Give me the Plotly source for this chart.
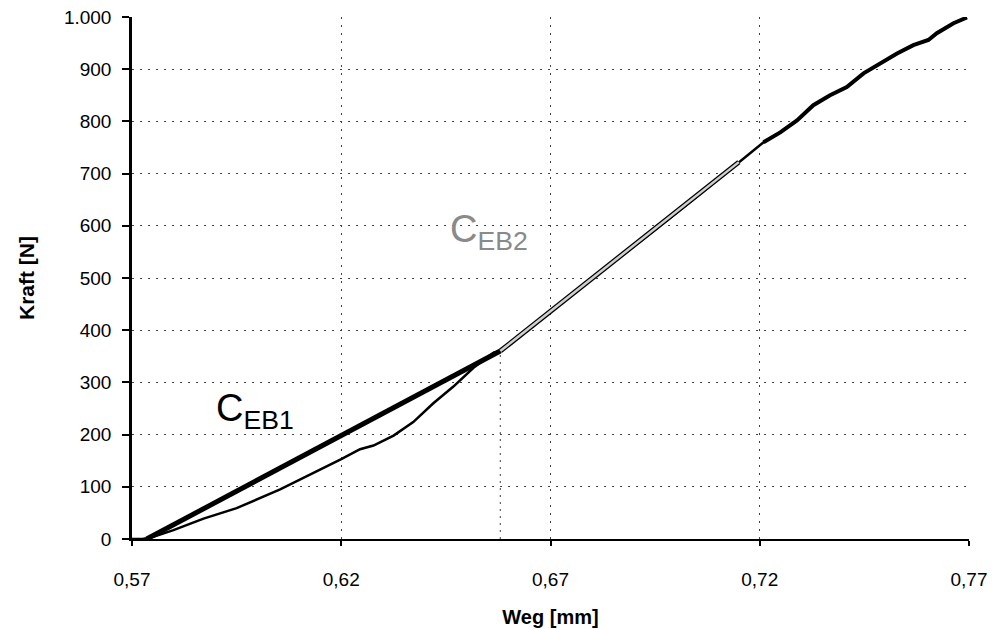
import plotly.graph_objects as go

# Measured load-displacement curve (Weg [mm], Kraft [N])
weg = [0.5700, 0.5725, 0.5751, 0.5799, 0.5871, 0.5950, 0.6054, 0.6118, 0.6200,
       0.6245, 0.6277, 0.6325, 0.6372, 0.6420, 0.6468, 0.6516, 0.6564, 0.6580,
       0.6705, 0.6850, 0.6954, 0.7042, 0.7149, 0.7209, 0.7249, 0.7289, 0.7328,
       0.7368, 0.7408, 0.7448, 0.7488, 0.7528, 0.7567, 0.7603, 0.7623, 0.7663,
       0.7695]
kraft = [0, 0, 4, 17, 39, 59, 95, 120, 153,
         172, 179, 198, 224, 260, 292, 328, 357, 360,
         438, 529, 595, 651, 721, 760, 779, 802, 831,
         850, 866, 892, 911, 930, 946, 956, 969, 988,
         999]

# Secant stiffness lines
ceb1_x = [0.5735, 0.6580]
ceb1_y = [0, 360]
ceb2_x = [0.6580, 0.7150]
ceb2_y = [360, 722]

x_ticks = [0.57, 0.62, 0.67, 0.72, 0.77]
y_ticks = [0, 100, 200, 300, 400, 500, 600, 700, 800, 900, 1000]

FONT = "Liberation Sans, Arial, sans-serif"

fig = go.Figure()

# dotted drop line at end of C_EB1
fig.add_trace(go.Scatter(x=[ceb1_x[1], ceb1_x[1]], y=[0, ceb1_y[1]], mode="lines",
                         line=dict(color="#444", width=1, dash="2px,5px"),
                         hoverinfo="skip", showlegend=False))

# measured curve
fig.add_trace(go.Scatter(x=weg, y=kraft, mode="lines",
                         line=dict(color="black", width=2.5),
                         showlegend=False))
upper = [i for i, v in enumerate(weg) if v >= ceb2_x[1]]
fig.add_trace(go.Scatter(x=[weg[i] for i in upper], y=[kraft[i] for i in upper],
                         mode="lines", line=dict(color="black", width=4),
                         showlegend=False))

# C_EB1 thick line
fig.add_trace(go.Scatter(x=ceb1_x, y=ceb1_y, mode="lines",
                         line=dict(color="black", width=5), showlegend=False))

# C_EB2 hollow line
fig.add_trace(go.Scatter(x=ceb2_x, y=ceb2_y, mode="lines",
                         line=dict(color="black", width=5), showlegend=False))
fig.add_trace(go.Scatter(x=ceb2_x, y=ceb2_y, mode="lines",
                         line=dict(color="#d0d0d0", width=2.5), showlegend=False))

fig.add_annotation(x=0.5895, y=245, xref="x", yref="y", xanchor="left", yanchor="middle",
                   text="C<sub>EB1</sub>", showarrow=False,
                   font=dict(family=FONT, size=38, color="black"))
fig.add_annotation(x=0.6455, y=588, xref="x", yref="y", xanchor="left", yanchor="middle",
                   text="C<sub>EB2</sub>", showarrow=False,
                   font=dict(family=FONT, size=38, color="#8a8a8a"))

fig.update_layout(
    width=1000, height=629,
    margin=dict(l=132, r=31, t=17, b=90, autoexpand=False),
    paper_bgcolor="white", plot_bgcolor="white",
    separators=",.",
    font=dict(family=FONT, size=19, color="black"),
    showlegend=False,
)

fig.update_xaxes(
    range=[0.57, 0.77], tickvals=x_ticks, tickformat=".2f",
    automargin=False,
    showgrid=True, gridcolor="#444", gridwidth=1, griddash="2px,6px",
    showline=True, linecolor="black", linewidth=2,
    ticks="outside", ticklen=5, tickwidth=1.5, tickcolor="black",
    ticklabelstandoff=17,
    zeroline=False,
    title=dict(text="<b>Weg [mm]</b>", font=dict(family=FONT, size=20), standoff=21),
    tickfont=dict(family=FONT, size=19),
)
fig.update_yaxes(
    range=[0, 1000], tickvals=y_ticks, tickformat=",d",
    automargin=False,
    showgrid=True, gridcolor="#444", gridwidth=1, griddash="2px,6px",
    showline=True, linecolor="black", linewidth=2.5,
    ticks="outside", ticklen=7, tickwidth=1.5, tickcolor="black",
    ticklabelstandoff=7,
    zeroline=False,
    title=dict(text="<b>Kraft [N]</b>", font=dict(family=FONT, size=21), standoff=24),
    tickfont=dict(family=FONT, size=19),
)

fig.write_html("out.html")
